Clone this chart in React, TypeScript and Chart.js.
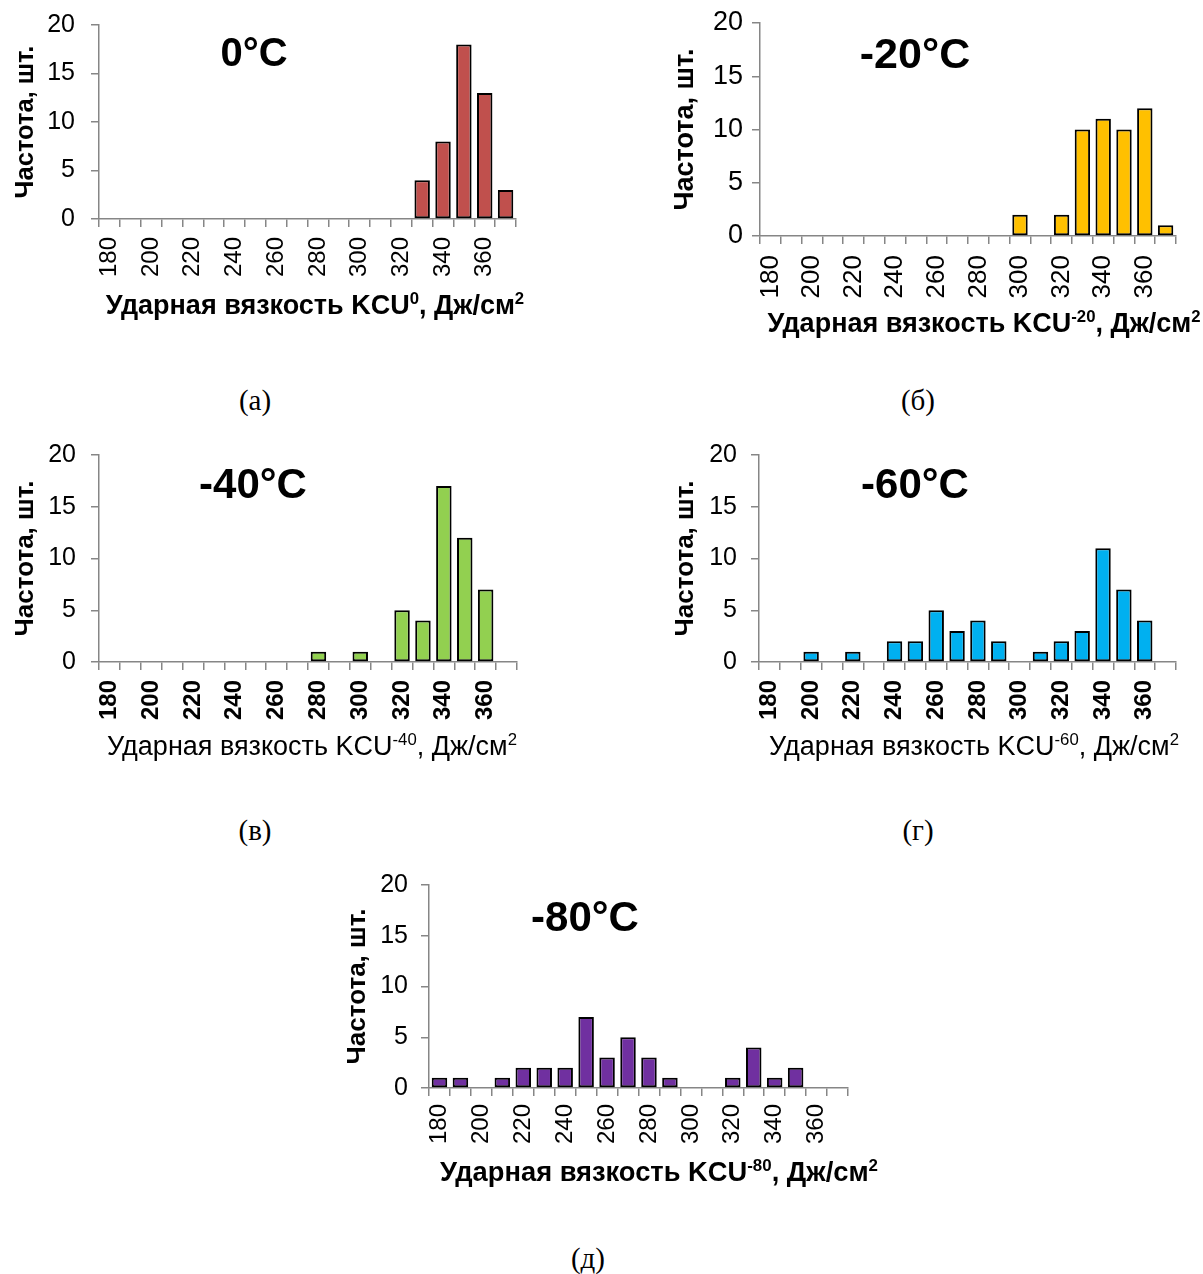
import React, { useEffect, useRef } from "react";
import { Chart, registerables } from "chart.js";

Chart.register(...registerables);

// ---------- DATA ----------
const BINS = ["180", "190", "200", "210", "220", "230", "240", "250", "260", "270", "280", "290", "300", "310", "320", "330", "340", "350", "360", "370"];
const X_TICK_LABELS = ["180", "", "200", "", "220", "", "240", "", "260", "", "280", "", "300", "", "320", "", "340", "", "360", ""];
const Y_TICKS = [0, 5, 10, 15, 20];

const FREQ_0 = [0, 0, 0, 0, 0, 0, 0, 0, 0, 0, 0, 0, 0, 0, 0, 4, 8, 18, 13, 3];
const FREQ_M20 = [0, 0, 0, 0, 0, 0, 0, 0, 0, 0, 0, 0, 2, 0, 2, 10, 11, 10, 12, 1];
const FREQ_M40 = [0, 0, 0, 0, 0, 0, 0, 0, 0, 0, 1, 0, 1, 0, 5, 4, 17, 12, 7, 0];
const FREQ_M60 = [0, 0, 1, 0, 1, 0, 2, 2, 5, 3, 4, 2, 0, 1, 2, 3, 11, 7, 4, 0];
const FREQ_M80 = [1, 1, 0, 1, 2, 2, 2, 7, 3, 5, 3, 1, 0, 0, 1, 4, 1, 2, 0, 0];

const HEADERS = ["0°C", "-20°C", "-40°C", "-60°C", "-80°C"];
const TEMP_SUPS = ["0", "-20", "-40", "-60", "-80"];
const Y_TITLE = "Частота, шт.";
const X_TITLE_MAIN = "Ударная вязкость KCU";
const X_TITLE_UNIT = ", Дж/см";
const X_TITLE_UNIT_SUP = "2";
const CAPTIONS = ["(а)", "(б)", "(в)", "(г)", "(д)"];

const COLORS = ["#C0504D", "#FFC000", "#92D050", "#00B0F0", "#7030A0"];

const FONT = "'Liberation Sans', Arial, sans-serif";
const SERIF = "'Liberation Serif', 'Times New Roman', serif";
const AXIS_COLOR = "#868686";

type Panel = {
  data: number[];
  color: string;
  header: string;
  sup: string;
  left: number; top: number; W: number; H: number;
  plot: { l: number; r: number; t: number; b: number };
  yTickSize: number; yTickPad: number;
  xTickSize: number; xTickBold: boolean; xTickPad: number;
  yTitleSize: number; yTitleCx: number;
  headerX: number; headerY: number; headerSize: number;
  titleCx: number; titleCy: number; titleSize: number; titleBold: boolean;
};

const PANELS: Panel[] = [
  {
    data: FREQ_0, color: COLORS[0], header: HEADERS[0], sup: TEMP_SUPS[0],
    left: 0, top: 0, W: 540, H: 330,
    plot: { l: 99, r: 516, t: 25, b: 219 },
    yTickSize: 25, yTickPad: 16, xTickSize: 24, xTickBold: false, xTickPad: 10,
    yTitleSize: 25.5, yTitleCx: 26,
    headerX: 254, headerY: 52, headerSize: 40,
    titleCx: 315, titleCy: 304, titleSize: 27, titleBold: true,
  },
  {
    data: FREQ_M20, color: COLORS[1], header: HEADERS[1], sup: TEMP_SUPS[1],
    left: 660, top: 0, W: 543, H: 340,
    plot: { l: 100, r: 516, t: 23, b: 236 },
    yTickSize: 27, yTickPad: 9, xTickSize: 26, xTickBold: false, xTickPad: 11,
    yTitleSize: 27, yTitleCx: 26,
    headerX: 255, headerY: 53, headerSize: 43,
    titleCx: 324, titleCy: 322, titleSize: 27, titleBold: true,
  },
  {
    data: FREQ_M40, color: COLORS[2], header: HEADERS[2], sup: TEMP_SUPS[2],
    left: 0, top: 440, W: 540, H: 330,
    plot: { l: 99, r: 517, t: 15, b: 222 },
    yTickSize: 25, yTickPad: 15, xTickSize: 24, xTickBold: true, xTickPad: 10,
    yTitleSize: 26, yTitleCx: 26,
    headerX: 253, headerY: 43, headerSize: 42,
    titleCx: 312, titleCy: 305, titleSize: 27, titleBold: false,
  },
  {
    data: FREQ_M60, color: COLORS[3], header: HEADERS[3], sup: TEMP_SUPS[3],
    left: 660, top: 440, W: 543, H: 330,
    plot: { l: 99, r: 516, t: 15, b: 222 },
    yTickSize: 25, yTickPad: 14, xTickSize: 24, xTickBold: true, xTickPad: 10,
    yTitleSize: 26, yTitleCx: 26,
    headerX: 255, headerY: 43, headerSize: 42,
    titleCx: 314, titleCy: 305, titleSize: 27, titleBold: false,
  },
  {
    data: FREQ_M80, color: COLORS[4], header: HEADERS[4], sup: TEMP_SUPS[4],
    left: 330, top: 870, W: 560, H: 330,
    plot: { l: 99, r: 518, t: 15, b: 218 },
    yTickSize: 25, yTickPad: 13, xTickSize: 24, xTickBold: false, xTickPad: 8,
    yTitleSize: 26, yTitleCx: 28,
    headerX: 255, headerY: 46, headerSize: 42,
    titleCx: 329, titleCy: 301, titleSize: 27.3, titleBold: true,
  },
];

const CAPTION_POS = [
  { x: 255, y: 400 },
  { x: 918, y: 400 },
  { x: 255, y: 830 },
  { x: 918, y: 830 },
  { x: 588, y: 1258 },
];

const overlayPlugin = {
  id: "overlay",
  afterDraw(chart: any, _args: any, opts: any) {
    const ctx = chart.ctx as CanvasRenderingContext2D;
    ctx.save();
    ctx.fillStyle = "#000";
    // header
    ctx.font = `bold ${opts.headerSize}px ${FONT}`;
    ctx.textAlign = "center";
    ctx.textBaseline = "alphabetic";
    ctx.fillText(opts.header, opts.headerX, opts.headerY + opts.headerSize * 0.36);
    // x axis title with superscripts
    const weight = opts.titleBold ? "bold" : "normal";
    const size = opts.titleSize;
    const supSize = size * 0.62;
    const parts = [
      { t: X_TITLE_MAIN, sup: false },
      { t: opts.sup, sup: true },
      { t: X_TITLE_UNIT, sup: false },
      { t: X_TITLE_UNIT_SUP, sup: true },
    ];
    const widths = parts.map((p) => {
      ctx.font = `${weight} ${p.sup ? supSize : size}px ${FONT}`;
      return ctx.measureText(p.t).width;
    });
    const total = widths.reduce((a, b) => a + b, 0);
    let x = opts.titleCx - total / 2;
    const base = opts.titleCy + size * 0.36;
    ctx.textAlign = "left";
    parts.forEach((p, i) => {
      ctx.font = `${weight} ${p.sup ? supSize : size}px ${FONT}`;
      ctx.fillText(p.t, x, p.sup ? base - size * 0.36 : base);
      x += widths[i];
    });
    ctx.restore();
  },
};

function ChartPanel({ p }: { p: Panel }) {
  const ref = useRef<HTMLCanvasElement | null>(null);
  useEffect(() => {
    if (!ref.current) return;
    const chart = new Chart(ref.current, {
      type: "bar",
      data: {
        labels: BINS,
        datasets: [
          {
            data: p.data,
            backgroundColor: p.color,
            borderColor: "#000000",
            borderWidth: 2,
            borderSkipped: false,
            categoryPercentage: 0.74,
            barPercentage: 1,
          },
        ],
      },
      options: {
        animation: false,
        responsive: false,
        devicePixelRatio: 1,
        layout: {
          padding: { left: 0, top: p.plot.t, right: p.W - p.plot.r, bottom: 0 },
        },
        plugins: {
          legend: { display: false },
          tooltip: { enabled: false },
          overlay: {
            header: p.header, headerX: p.headerX, headerY: p.headerY, headerSize: p.headerSize,
            sup: p.sup, titleCx: p.titleCx, titleCy: p.titleCy, titleSize: p.titleSize, titleBold: p.titleBold,
          },
        } as any,
        scales: {
          x: {
            type: "category",
            offset: true,
            grid: {
              offset: true,
              drawOnChartArea: false,
              drawTicks: true,
              tickLength: 8,
              color: AXIS_COLOR,
              lineWidth: 1.5,
            },
            border: { display: true, color: AXIS_COLOR, width: 1.5 },
            ticks: {
              autoSkip: false,
              minRotation: 90,
              maxRotation: 90,
              padding: p.xTickPad,
              color: "#000",
              font: { family: FONT, size: p.xTickSize, weight: p.xTickBold ? "bold" : "normal" },
              callback: (_v: any, i: number) => X_TICK_LABELS[i],
            },
            afterFit: (scale: any) => {
              scale.height = p.H - p.plot.b;
              scale.paddingLeft = 0;
              scale.paddingRight = 0;
            },
          },
          y: {
            min: 0,
            max: 20,
            afterBuildTicks: (scale: any) => {
              scale.ticks = Y_TICKS.map((v) => ({ value: v }));
            },
            grid: {
              drawOnChartArea: false,
              drawTicks: true,
              tickLength: 8,
              color: AXIS_COLOR,
              lineWidth: 1.5,
            },
            border: { display: true, color: AXIS_COLOR, width: 1.5 },
            ticks: {
              padding: p.yTickPad,
              color: "#000",
              font: { family: FONT, size: p.yTickSize },
            },
            title: {
              display: true,
              text: Y_TITLE,
              color: "#000",
              font: { family: FONT, size: p.yTitleSize, weight: "bold", lineHeight: 1.2 },
              padding: { top: p.yTitleCx - (p.yTitleSize * 1.2) / 2, bottom: 0 },
            },
            afterFit: (scale: any) => {
              scale.width = p.plot.l;
              scale.paddingTop = 0;
              scale.paddingBottom = 0;
            },
          },
        },
      },
      plugins: [overlayPlugin],
    } as any);
    return () => chart.destroy();
  }, [p]);
  return (
    <canvas
      ref={ref}
      width={p.W}
      height={p.H}
      style={{ position: "absolute", left: p.left, top: p.top, width: p.W, height: p.H }}
    />
  );
}

export default function App() {
  return (
    <div style={{ position: "absolute", left: 0, top: 0, width: 1203, height: 1274, background: "#fff", overflow: "hidden" }}>
      {PANELS.map((p, i) => (
        <ChartPanel key={i} p={p} />
      ))}
      {CAPTIONS.map((c, i) => (
        <div
          key={"c" + i}
          style={{
            position: "absolute",
            left: CAPTION_POS[i].x - 60,
            top: CAPTION_POS[i].y - 17,
            width: 120,
            height: 34,
            lineHeight: "34px",
            textAlign: "center",
            fontFamily: SERIF,
            fontSize: 29,
            color: "#000",
          }}
        >
          {c}
        </div>
      ))}
    </div>
  );
}
